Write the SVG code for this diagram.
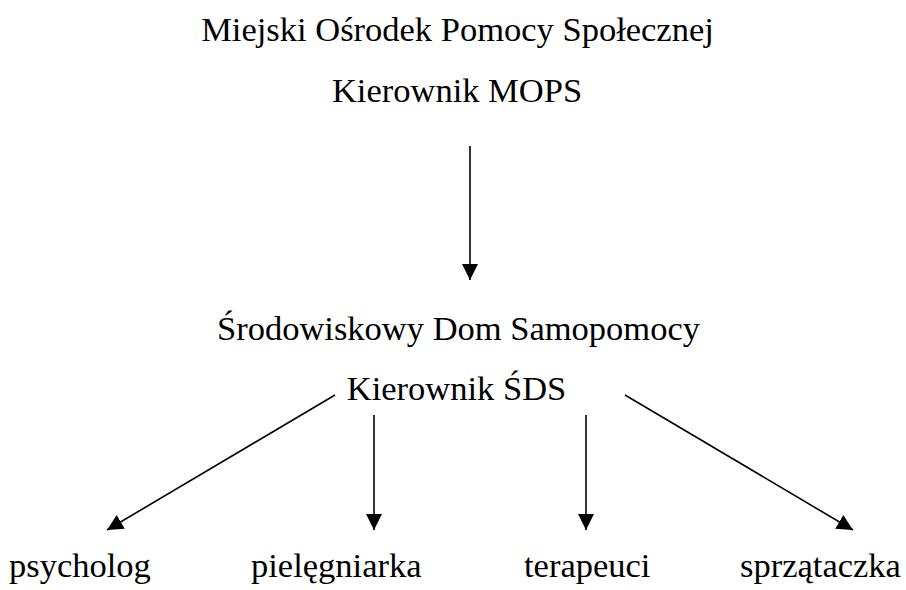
<svg xmlns="http://www.w3.org/2000/svg" width="906" height="590" viewBox="0 0 906 590">
<style>
text{font-family:"Liberation Serif","Times New Roman",serif;font-size:34.5px;fill:#000}
.m{text-anchor:middle}
.c line{stroke:#000;stroke-width:1.6;fill:none}
</style>
<defs>
<marker id="ah" viewBox="0 0 16 16" refX="16" refY="8" markerWidth="16" markerHeight="16" markerUnits="userSpaceOnUse" orient="auto">
<path d="M0,0 L16,8 L0,16 Z" fill="#000"/>
</marker>
</defs>
<rect width="906" height="590" fill="#fff"/>
<g id="mops">
<text class="m" x="457.5" y="41">Miejski Ośrodek Pomocy Społecznej</text>
<text class="m" x="457" y="102">Kierownik MOPS</text>
</g>
<g id="sds">
<text class="m" x="458.5" y="340">Środowiskowy Dom Samopomocy</text>
<text class="m" x="456.5" y="400">Kierownik ŚDS</text>
</g>
<g id="psycholog"><text x="9" y="577">psycholog</text></g>
<g id="pielegniarka"><text x="251" y="577">pielęgniarka</text></g>
<g id="terapeuci"><text x="524" y="577">terapeuci</text></g>
<g id="sprzataczka"><text x="740" y="577">sprzątaczka</text></g>
<g class="c" id="connectors">
<line x1="470" y1="146" x2="470" y2="280" marker-end="url(#ah)"/>
<line x1="335" y1="395" x2="107" y2="530" marker-end="url(#ah)"/>
<line x1="374" y1="415" x2="374" y2="530" marker-end="url(#ah)"/>
<line x1="586" y1="415" x2="586" y2="530" marker-end="url(#ah)"/>
<line x1="625" y1="395" x2="853" y2="530" marker-end="url(#ah)"/>
</g>
</svg>
